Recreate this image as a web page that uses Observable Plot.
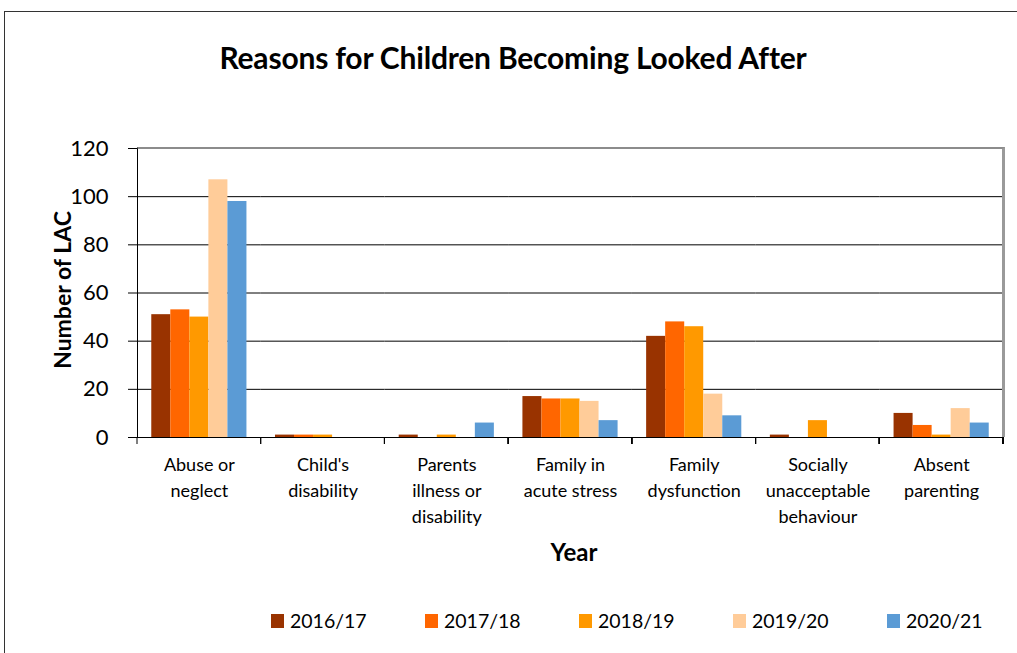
<!DOCTYPE html>
<html>
<head>
<meta charset="utf-8">
<script src="https://cdn.jsdelivr.net/npm/d3@7"></script>
<script src="https://cdn.jsdelivr.net/npm/@observablehq/plot@0.6"></script>
<style>
  body { margin: 0; background: #fff; font-family: Lato, "Liberation Sans", sans-serif; color: #000; }
  #wrap { position: relative; width: 1017px; height: 653px; overflow: hidden; background: #fff; }
  #border { position: absolute; left: 4px; top: 11px; width: 1100px; height: 700px; border-left: 1.5px solid #333; border-top: 1.5px solid #333; }
  #title { position: absolute; top: 39px; left: 0; width: 1026px; text-align: center; font-weight: bold; font-size: 30px; line-height: 36px; letter-spacing: -0.2px; }
  #chart { position: absolute; left: 0; top: 130px; }
  #frame { position: absolute; pointer-events: none; box-sizing: border-box; border-left: 1px solid #000; border-top: 2px solid #8c8c8c; border-right: 3px solid #9a9a9a; }
  #ytitle { position: absolute; left: 62px; top: 290px; transform: translate(-50%, -50%) rotate(-90deg); font-weight: bold; font-size: 23px; white-space: nowrap; }
  #xtitle { position: absolute; left: 574px; top: 551px; transform: translate(-50%, -50%); font-weight: bold; font-size: 24px; }
  #legend { position: absolute; left: 271px; top: 609px; display: flex; font-size: 19.5px; }
  #legend .item { width: 154px; display: flex; align-items: center; }
  #legend .sw { width: 13px; height: 14px; margin-right: 6px; }
</style>
</head>
<body>
<div id="wrap">
  <div id="border"></div>
  <div id="title">Reasons for Children Becoming Looked After</div>
  <div id="chart"></div>
  <div id="frame"></div>
  <div id="ytitle">Number of LAC</div>
  <div id="xtitle">Year</div>
  <div id="legend"></div>
</div>
<script>
const categories = ["Abuse or neglect", "Child's disability", "Parents illness or disability", "Family in acute stress", "Family dysfunction", "Socially unacceptable behaviour", "Absent parenting"];
const categoryLabels = ["Abuse or\nneglect", "Child's\ndisability", "Parents\nillness or\ndisability", "Family in\nacute stress", "Family\ndysfunction", "Socially\nunacceptable\nbehaviour", "Absent\nparenting"];
const years = ["2016/17", "2017/18", "2018/19", "2019/20", "2020/21"];
const v2016_17 = [51, 1, 1, 17, 42, 1, 10];
const v2017_18 = [53, 1, 0, 16, 48, 0, 5];
const v2018_19 = [50, 1, 1, 16, 46, 7, 1];
const v2019_20 = [107, 0, 0, 15, 18, 0, 12];
const v2020_21 = [98, 0, 6, 7, 9, 0, 6];
const yTicks = [0, 20, 40, 60, 80, 100, 120];
const colors = ["#993300", "#FF6600", "#FF9900", "#FFCC99", "#5B9BD5"];

const series = [v2016_17, v2017_18, v2018_19, v2019_20, v2020_21];
const data = categories.flatMap((c, i) => years.map((y, j) => ({category: c, year: y, value: series[j][i]})));

const W = 1017, H = 440;
const M = {left: 137, right: 14, top: 18, bottom: 133};

// category boundary ticks below the x axis, placed through the fx scale
const boundaryTicks = (index, scales, values, dims) => {
  const g = d3.create("svg:g");
  const y0 = dims.height - dims.marginBottom;
  let xs;
  if (scales && scales.fx) {
    const bw = scales.fx.bandwidth ? scales.fx.bandwidth() : 0;
    xs = categories.map(c => scales.fx(c));
    xs.push(scales.fx(categories[categories.length - 1]) + bw);
  } else {
    const step = (dims.width - dims.marginLeft - dims.marginRight) / categories.length;
    xs = d3.range(categories.length + 1).map(i => dims.marginLeft + i * step);
  }
  for (const x of xs) {
    g.append("line").attr("x1", x).attr("x2", x).attr("y1", y0).attr("y2", y0 + 7)
      .attr("stroke", "#000").attr("stroke-width", 1);
  }
  return g.node();
};

const chart = Plot.plot({
  width: W,
  height: H,
  marginLeft: M.left,
  marginRight: M.right,
  marginTop: M.top,
  marginBottom: M.bottom,
  style: {fontFamily: "Lato, 'Liberation Sans', sans-serif", background: "transparent", color: "#000"},
  fx: {domain: categories, padding: 0, round: false, label: null},
  x: {domain: years, paddingInner: 0, paddingOuter: 0.75, round: false, axis: null},
  y: {domain: [0, 120], label: null},
  color: {domain: years, range: colors},
  marks: [
    Plot.gridY([20, 40, 60, 80, 100], {stroke: "#000", strokeOpacity: 1, strokeWidth: 1}),
    Plot.barY(data, {fx: "category", x: "year", y: "value", fill: "year", inset: 0}),
    Plot.ruleY([0], {stroke: "#000", strokeWidth: 1}),
    Plot.axisY(yTicks, {tickSize: 9, tickPadding: 20, fontSize: 22, label: null}),
    Plot.axisFx({anchor: "bottom", tickSize: 0, tickPadding: 15, fontSize: 18, lineHeight: 1.45, label: null,
      tickFormat: c => categoryLabels[categories.indexOf(c)]}),
    boundaryTicks
  ]
});
document.getElementById("chart").appendChild(chart);

const frame = document.getElementById("frame");
frame.style.left = M.left + "px";
frame.style.top = (130 + M.top - 1) + "px";
frame.style.width = (W - M.left - M.right + 2) + "px";
frame.style.height = (H - M.top - M.bottom + 1) + "px";

const legend = document.getElementById("legend");
years.forEach((y, i) => {
  const it = document.createElement("div");
  it.className = "item";
  const sw = document.createElement("div");
  sw.className = "sw";
  sw.style.background = colors[i];
  const t = document.createElement("span");
  t.textContent = y;
  it.appendChild(sw);
  it.appendChild(t);
  legend.appendChild(it);
});
</script>
</body>
</html>
